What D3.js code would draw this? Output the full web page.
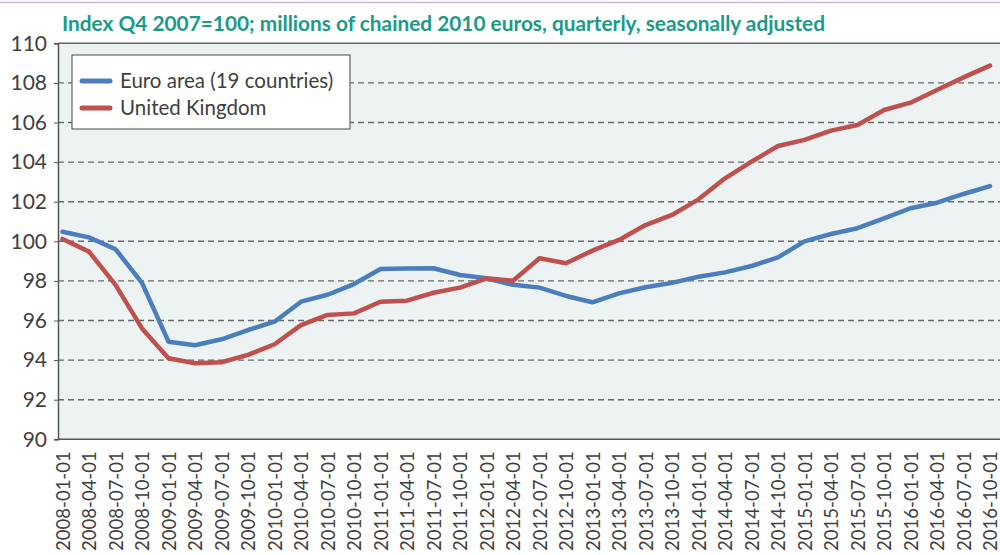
<!DOCTYPE html>
<html><head><meta charset="utf-8">
<script src="https://cdn.jsdelivr.net/npm/d3@7"></script>
<style>body{margin:0;background:#fff}svg{display:block}</style>
</head><body>
<svg id="c" width="1000" height="555"></svg>
<script>
const quarters = ["2008-01-01","2008-04-01","2008-07-01","2008-10-01","2009-01-01","2009-04-01","2009-07-01","2009-10-01","2010-01-01","2010-04-01","2010-07-01","2010-10-01","2011-01-01","2011-04-01","2011-07-01","2011-10-01","2012-01-01","2012-04-01","2012-07-01","2012-10-01","2013-01-01","2013-04-01","2013-07-01","2013-10-01","2014-01-01","2014-04-01","2014-07-01","2014-10-01","2015-01-01","2015-04-01","2015-07-01","2015-10-01","2016-01-01","2016-04-01","2016-07-01","2016-10-01"];
const euroArea = [100.48,100.2,99.6,97.9,94.93,94.75,95.05,95.52,95.94,96.95,97.3,97.84,98.6,98.62,98.64,98.3,98.13,97.8,97.66,97.24,96.92,97.37,97.68,97.9,98.21,98.43,98.75,99.19,100.0,100.37,100.66,101.16,101.67,101.95,102.39,102.79];
const unitedKingdom = [100.12,99.48,97.8,95.6,94.09,93.84,93.89,94.26,94.8,95.77,96.28,96.36,96.95,97.0,97.4,97.66,98.13,98.01,99.14,98.89,99.53,100.07,100.82,101.33,102.12,103.18,104.02,104.81,105.12,105.59,105.87,106.63,107.0,107.64,108.28,108.87];
const seriesNames = ["Euro area (19 countries)","United Kingdom"];
const yTicks = [90,92,94,96,98,100,102,104,106,108,110];
const titleText = "Index Q4 2007=100; millions of chained 2010 euros, quarterly, seasonally adjusted";

const colors = ["#4a7ebf","#c0504d"];
const svg = d3.select("#c");
const L = 58, R = 1000, T = 43.3, B = 439.3;
const font = "Lato, 'Open Sans', sans-serif";

svg.append("line").attr("x1",0).attr("x2",1000).attr("y1",2.5).attr("y2",2.5)
  .attr("stroke","#cbbcd9").attr("stroke-width",1.5);

svg.append("text").attr("x",62).attr("y",31).text(titleText)
  .attr("font-family",font).attr("font-weight","bold").attr("font-size",20.5)
  .attr("fill","#1a9a87").attr("textLength",763).attr("lengthAdjust","spacingAndGlyphs");

svg.append("rect").attr("x",L).attr("y",T).attr("width",R-L).attr("height",B-T).attr("fill","#edf3f3");

const x = d3.scalePoint().domain(quarters).range([62.5,990]);
const y = d3.scaleLinear().domain([90,110]).range([B,T]);

// gridlines
svg.append("g").selectAll("line").data(yTicks.filter(d=>d>90&&d<110)).join("line")
  .attr("x1",L).attr("x2",R).attr("y1",d=>y(d)).attr("y2",d=>y(d))
  .attr("stroke","#6a6a6a").attr("stroke-width",1.4).attr("stroke-dasharray","6,4");

// top border
svg.append("line").attr("x1",L).attr("x2",R).attr("y1",T).attr("y2",T).attr("stroke","#666").attr("stroke-width",1.5);

// y axis
const ya = svg.append("g").attr("transform",`translate(${L},0)`)
  .call(d3.axisLeft(y).tickValues(yTicks).tickSize(4).tickPadding(7).tickFormat(d3.format("d")));
ya.select(".domain").attr("stroke","#555").attr("stroke-width",1.5);
ya.selectAll(".tick line").attr("stroke","#555");
ya.selectAll("text").attr("font-family",font).attr("font-size",21).attr("fill","#404040");

// x axis
const xa = svg.append("g").attr("transform",`translate(0,${B})`)
  .call(d3.axisBottom(x).tickSize(0).tickPadding(0));
xa.select(".domain").attr("d",`M${L},0H${R}`).attr("stroke","#555").attr("stroke-width",1.5);
xa.selectAll("text").attr("font-family",font).attr("font-size",18.5).attr("fill","#404040")
  .attr("transform","rotate(-90)").attr("text-anchor","end").attr("x",-12).attr("y",0).attr("dy","0.36em");

// lines
const line = d3.line().x((d,i)=>x(quarters[i])).y(d=>y(d));
[euroArea, unitedKingdom].forEach((s,i)=>{
  svg.append("path").datum(s).attr("d",line).attr("fill","none")
    .attr("stroke",colors[i]).attr("stroke-width",4.5).attr("stroke-linejoin","round").attr("stroke-linecap","round");
});

// legend
const lg = svg.append("g");
lg.append("rect").attr("x",72).attr("y",55).attr("width",278).attr("height",74)
  .attr("fill","#fff").attr("stroke","#666").attr("stroke-width",1.2);
seriesNames.forEach((n,i)=>{
  const yy = 81 + i*27;
  lg.append("line").attr("x1",82).attr("x2",110).attr("y1",yy).attr("y2",yy)
    .attr("stroke",colors[i]).attr("stroke-width",5).attr("stroke-linecap","round");
  lg.append("text").attr("x",120).attr("y",yy).attr("dy","0.35em").text(n)
    .attr("font-family",font).attr("font-size",20.5).attr("fill","#404040");
});
</script>
</body></html>
